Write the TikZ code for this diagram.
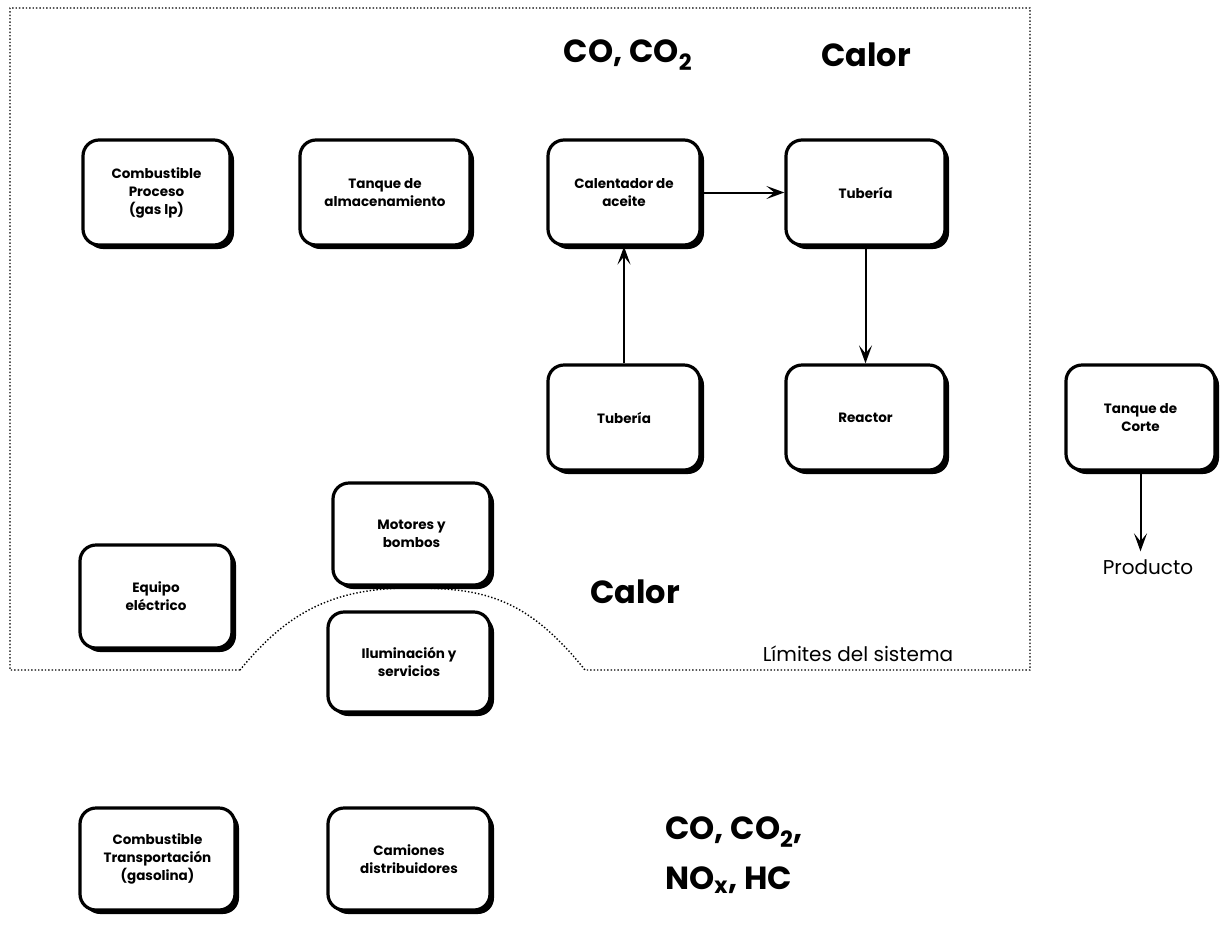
\documentclass[tikz,border=0pt]{standalone}
\usepackage{fontspec}
\setmainfont{Poppins}
\usetikzlibrary{arrows.meta,shadows}

\tikzset{
  box/.style={draw, line width=3.2pt, rounded corners=16pt, fill=white,
    align=center, font=\fontsize{13.5}{18}\selectfont\bfseries,
    inner sep=0pt,
    drop shadow={shadow xshift=4pt, shadow yshift=-4pt, fill=black, opacity=1}},
  flow/.style={line width=2pt, -{Stealth[length=18pt,width=13pt,inset=8pt]}},
  bigtext/.style={font=\fontsize{32}{40}\selectfont\bfseries, inner sep=0pt},
  boundary/.style={line width=1.4pt, dotted},
}
% place a box by its corners, given in pixels (x1,y1) -- (x2,y2)
\newcommand{\pbox}[6]{%
  \node[box, minimum width={(#4-#2)*1pt}, minimum height={(#5-#3)*1pt}]
    (#1) at ({(#2+#4)/2},{(#3+#5)/2}) {#6};}

\begin{document}
\begin{tikzpicture}[x=1pt, y=-1pt]
\useasboundingbox (0,0) rectangle (1231,938);

% system boundary
\draw[boundary] (240,670) -- (10,670) -- (10,8) -- (1030,8) -- (1030,670) -- (585,670)
  .. controls (525,595) and (480,588) .. (410,588)
  .. controls (330,588) and (285,615) .. (240,670);

% equipment boxes
\pbox{cp}{83}{140}{230}{245}{Combustible\\Proceso\\(gas lp)}
\pbox{tq}{300}{140}{470}{245}{Tanque de\\almacenamiento}
\pbox{cal}{548}{140}{700}{245}{Calentador de\\aceite}
\pbox{tub1}{786}{140}{945}{245}{Tubería}
\pbox{tub2}{548}{365}{700}{470}{Tubería}
\pbox{rea}{786}{365}{945}{470}{Reactor}
\pbox{cor}{1066}{365}{1215}{470}{Tanque de\\Corte}
\pbox{mot}{333}{483}{490}{585}{Motores y\\bombos}
\pbox{eq}{80}{545}{232}{648}{Equipo\\eléctrico}
\pbox{il}{328}{612}{490}{712}{Iluminación y\\servicios}
\pbox{tr}{80}{808}{235}{910}{Combustible\\Transportación\\(gasolina)}
\pbox{cam}{328}{808}{490}{910}{Camiones\\distribuidores}

% labels
\node[bigtext] (co) at (628,55) {CO, CO\textsubscript{2}};
\node[bigtext] (cal1) at (866,55) {Calor};
\node[bigtext] (cal2) at (635,592) {Calor};
\node[font=\fontsize{20}{24}\selectfont, inner sep=0pt] (lim) at (858,654) {Límites del sistema};
\node[font=\fontsize{20}{24}\selectfont, inner sep=0pt] (prod) at (1148,567) {Producto};
\node[bigtext, align=left, anchor=west, font=\fontsize{32}{50}\selectfont\bfseries] (emis) at (665,855)
  {CO, CO\textsubscript{2},\\NO\textsubscript{x}, HC};

% flows
\draw[flow] (tub2.north) -- (tub2.north |- cal.south);
\draw[flow] (cal.east) -- (tub1.west);
\draw[flow] (tub1.south) -- (rea.north);
\coordinate (prodtop) at ([yshift=8pt]prod.north -| cor.south);
\draw[flow] (cor.south) -- (prodtop);
\end{tikzpicture}
\end{document}
